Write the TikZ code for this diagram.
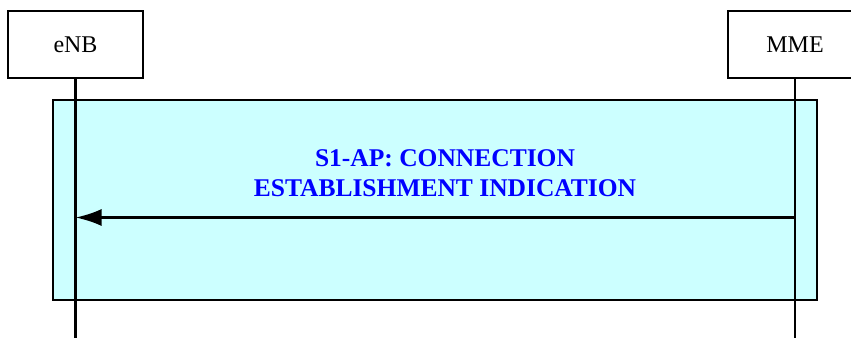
\documentclass[tikz,border=0pt]{standalone}
\usepackage{fontspec}
\setmainfont{Liberation Serif}
\usetikzlibrary{arrows.meta,positioning}
\definecolor{paleCyan}{HTML}{CCFFFF}
\definecolor{msgblue}{HTML}{0000FF}
\tikzset{
  >={Latex[length=26pt,width=17pt]},
  x=1pt,y=-1pt,
  entity/.style={draw=black,line width=2pt,fill=white,minimum width=135pt,
    minimum height=67pt,inner sep=0pt,font=\fontsize{24}{28}\selectfont},
  lifeline/.style={draw=black,line width=2.2pt},
  msgbox/.style={draw=black,line width=2.2pt,fill=paleCyan},
  msg/.style={->,line width=2.6pt,draw=black},
  msglabel/.style={text=msgblue,align=center,font=\fontsize{25.5}{30}\selectfont\bfseries}
}
\begin{document}
\begin{tikzpicture}
  \useasboundingbox (0,0) rectangle (851,338);
  \node[entity] (enb) at (75.5,44.5) {eNB};
  \node[entity] (mme) at (795,44.5) {MME};
  \coordinate (enbend) at (75.5,338);
  \coordinate (mmeend) at (795,338);
  \draw[msgbox] (53,100) rectangle (817,300);
  \draw[lifeline] (enb.south)--(enbend);
  \draw[lifeline] (mme.south)--(mmeend);
  \coordinate (mmemsg) at (795,217.5);
  \coordinate (enbmsg) at (75.5,217.5);
  \draw[msg] (mmemsg)--(enbmsg);
  \node[msglabel] (label) at (445,173) {S1-AP: CONNECTION\\ESTABLISHMENT INDICATION};
\end{tikzpicture}
\end{document}
